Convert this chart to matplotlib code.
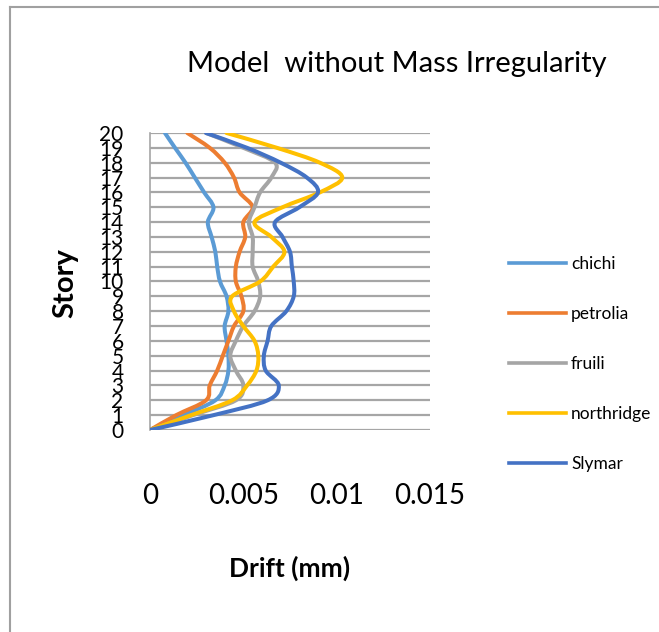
import matplotlib
matplotlib.use("Agg")
import matplotlib.pyplot as plt
from matplotlib.path import Path
from matplotlib.patches import PathPatch
from matplotlib.lines import Line2D

plt.rcParams['font.family'] = ['Lato', 'DejaVu Sans']

# data
stories = list(range(0, 21))
chichi = [0, 0.0018, 0.0035, 0.0040, 0.0042, 0.0042, 0.0041, 0.0040, 0.0042, 0.0041, 0.00375,
          0.0036, 0.0035, 0.0033, 0.0031, 0.0034, 0.0029, 0.0024, 0.0019, 0.00134, 0.0008]
petrolia = [0, 0.0014, 0.0030, 0.0032, 0.0036, 0.0039, 0.0042, 0.0045, 0.0050, 0.0049, 0.0046,
            0.0046, 0.0048, 0.0051, 0.0050, 0.0055, 0.0048, 0.0045, 0.0040, 0.0032, 0.0020]
fruili = [0, 0.0023, 0.0046, 0.0050, 0.0046, 0.0043, 0.0046, 0.0050, 0.0056, 0.0059, 0.0058,
          0.0055, 0.0055, 0.0055, 0.0053, 0.0056, 0.0059, 0.0065, 0.0067, 0.0050, 0.0030]
northridge = [0, 0.0022, 0.0044, 0.0052, 0.0057, 0.0058, 0.0056, 0.0050, 0.0045, 0.0044, 0.0059,
              0.0066, 0.0072, 0.0065, 0.0056, 0.0071, 0.0091, 0.0103, 0.0091, 0.0068, 0.0041]
slymar = [0, 0.0034, 0.0063, 0.0069, 0.0062, 0.0061, 0.0063, 0.0065, 0.0073, 0.0077, 0.0077,
          0.0076, 0.0075, 0.0071, 0.0067, 0.0080, 0.0090, 0.0084, 0.0070, 0.0052, 0.0030]
names = ["chichi", "petrolia", "fruili", "northridge", "Slymar"]
colors = ["#5B9BD5", "#ED7D31", "#A5A5A5", "#FFC000", "#4472C4"]
xticks = [0, 0.005, 0.01, 0.015]
xticklabels = ["0", "0.005", "0.01", "0.015"]


def smooth_path(xs, ys):
    # excel style smoothed line: bezier segments through the data points
    pts = list(zip(xs, ys))
    verts = [pts[0]]
    codes = [Path.MOVETO]
    n = len(pts)
    for i in range(n - 1):
        p0 = pts[i - 1] if i > 0 else pts[i]
        p1 = pts[i]
        p2 = pts[i + 1]
        p3 = pts[i + 2] if i + 2 < n else pts[i + 1]
        c1 = (p1[0] + (p2[0] - p0[0]) / 6, p1[1] + (p2[1] - p0[1]) / 6)
        c2 = (p2[0] - (p3[0] - p1[0]) / 6, p2[1] - (p3[1] - p1[1]) / 6)
        verts += [c1, c2, p2]
        codes += [Path.CURVE4] * 3
    return Path(verts, codes)


fig = plt.figure(figsize=(6.59, 6.32), dpi=100)
ax = fig.add_axes([0.2276, 0.3196, 0.4249, 0.470])

for s in stories:
    ax.axhline(s, color="#A6A6A6", lw=1.6, zorder=1)

handles = []
for vals, name, col in zip([chichi, petrolia, fruili, northridge, slymar], names, colors):
    patch = PathPatch(smooth_path(vals, stories), facecolor="none", edgecolor=col, lw=2.9, zorder=3,
                      capstyle="round", joinstyle="round")
    ax.add_patch(patch)
    handles.append(Line2D([], [], color=col, lw=2.6))

ax.set_xlim(0, 0.015)
ax.set_ylim(0, 20)
ax.set_xticks(xticks)
ax.set_xticklabels(xticklabels, fontsize=20)
ax.set_yticks(stories)
ax.set_yticklabels([str(s) for s in stories], fontsize=15)
ax.tick_params(axis="x", length=0, pad=38)
ax.tick_params(axis="y", length=0, pad=19)
for side in ["top", "right", "bottom"]:
    ax.spines[side].set_visible(False)
ax.spines["left"].set_color("#A6A6A6")
ax.spines["left"].set_linewidth(1.2)

fig.text(0.602, 0.898, "Model  without Mass Irregularity", fontsize=21, ha="center", va="center")
fig.text(0.0986, 0.552, "Story", fontsize=21, fontweight="bold", rotation=90, ha="center", va="center")
fig.text(0.44, 0.101, "Drift (mm)", fontsize=19, fontweight="bold", ha="center", va="center")

fig.legend(handles, names, loc="upper left", bbox_to_anchor=(0.748, 0.619), frameon=False,
           fontsize=12.5, handlelength=3.3, handletextpad=0.3, labelspacing=1.95)

# chart border
fig.add_artist(Line2D([10 / 659, 10 / 659], [0, 1 - 7 / 632], color="#A0A0A0", lw=1.5))
fig.add_artist(Line2D([10 / 659, 1], [1 - 7 / 632, 1 - 7 / 632], color="#A0A0A0", lw=1.5))

fig.savefig("out.png", dpi=100)
